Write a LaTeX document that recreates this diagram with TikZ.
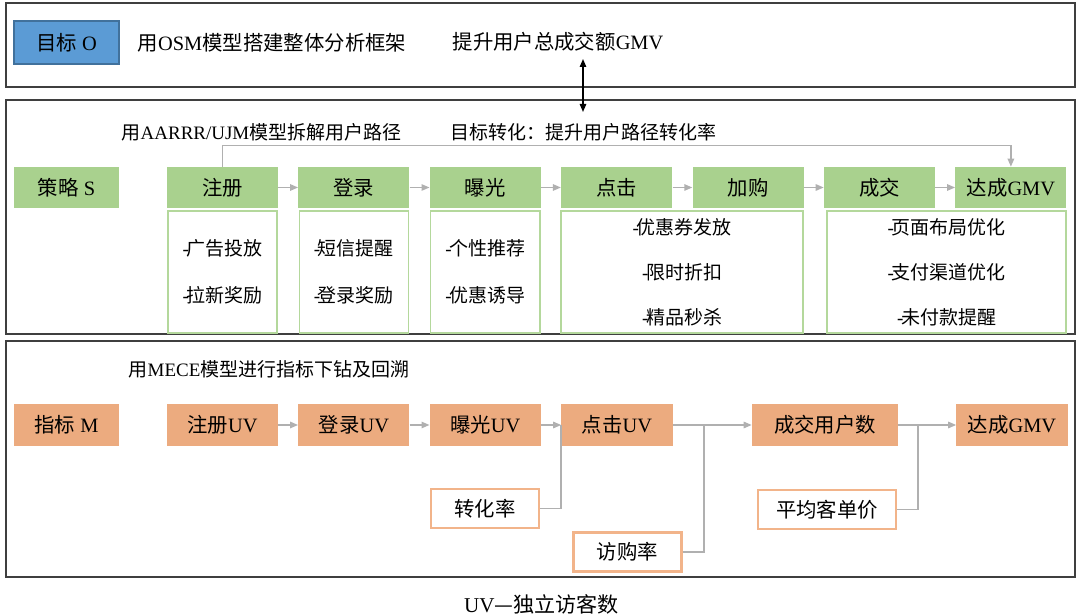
\documentclass[tikz,border=0pt]{standalone}
\usepackage{fontspec}
\setmainfont{Liberation Serif}
\newfontfamily\cjk{Noto Sans CJK SC}
\usetikzlibrary{arrows.meta}
\newcommand\zh[1]{{\cjk #1}}
\newcommand\bul{-\kern-0.12em}
\definecolor{frm}{HTML}{3F3F3F}
\definecolor{grn}{HTML}{A9D18E}
\definecolor{grnl}{HTML}{B4D89C}
\definecolor{org}{HTML}{ECAB7F}
\definecolor{orgl}{HTML}{F2B48A}
\definecolor{blu}{HTML}{5B9BD5}
\definecolor{blud}{HTML}{41719C}
\definecolor{gry}{HTML}{B0B0B0}
\begin{document}
\begin{tikzpicture}[x=0.025cm,y=-0.025cm,
  font=\fontsize{13.5}{16}\selectfont,
  frame/.style={draw=frm, line width=0.8pt},
  txt/.style={inner sep=0pt, font=\fontsize{13.5}{16}\selectfont},
  bigtxt/.style={inner sep=0pt, font=\fontsize{14.5}{17}\selectfont},
  bluebox/.style={fill=blu, draw=blud, line width=1pt, minimum width=2.625cm, minimum height=1.075cm, inner sep=0pt, font=\fontsize{14.5}{17}\selectfont},
  gbox/.style={fill=grn, minimum width=2.775cm, minimum height=1.025cm, inner sep=0pt, font=\fontsize{14.5}{17}\selectfont},
  obox/.style={fill=org, minimum width=2.775cm, minimum height=1.05cm, inner sep=0pt, font=\fontsize{14.5}{17}\selectfont},
  wbox/.style={fill=white, draw=orgl, line width=1.8pt, minimum width=2.7cm, minimum height=0.98cm, inner sep=0pt, font=\fontsize{14.5}{17}\selectfont},
  sbox2/.style={draw=grnl, line width=1pt, minimum width=2.725cm, minimum height=3.05cm, inner sep=0pt, align=center, font=\fontsize{13.5}{33.4}\selectfont},
  sbox3/.style={draw=grnl, line width=1pt, minimum height=3.05cm, inner sep=0pt, align=center, font=\fontsize{13.5}{32}\selectfont},
  conn/.style={draw=gry, line width=1.1pt},
  arr/.style={conn, -{Triangle[length=2mm,width=1.6mm]}},
  barr/.style={draw=black, line width=1pt, {Triangle[length=2mm,width=1.6mm]}-{Triangle[length=2mm,width=1.6mm]}}
]
\useasboundingbox (0,0) rectangle (1079,615);
\fill[white] (0,0) rectangle (1079,615);

% frames
\draw[frame] (6,3) rectangle (1075,87);
\draw[frame] (6,100) rectangle (1075,334);
\draw[frame] (6,341) rectangle (1075,577);

% ---- Objective
\node[bluebox] (obj) at (66.5,42.5) {\zh{目标} O};
\node[bigtxt] (osm) at (272,43) {\zh{用}OSM\zh{模型搭建整体分析框架}};
\node[bigtxt] (gmvt) at (558,42) {\zh{提升用户总成交额}GMV};

% ---- Strategy
\node[txt] (aarrr) at (261.5,132) {\zh{用}AARRR/UJM\zh{模型拆解用户路径}};
\node[txt] (conv) at (583.5,132) {\zh{目标转化：提升用户路径转化率}};
\coordinate (atop) at (583,59);
\coordinate (abot) at (583,112);
\draw[barr] (atop) -- (abot);

\node[gbox, minimum width=2.6cm] (s) at (66.5,187.5) {\zh{策略} S};
\node[gbox] (zc) at (222.5,187.5) {\zh{注册}};
\node[gbox] (dl) at (353.9,187.5) {\zh{登录}};
\node[gbox] (bg) at (485.3,187.5) {\zh{曝光}};
\node[gbox] (dj) at (616.7,187.5) {\zh{点击}};
\node[gbox] (jg) at (748.1,187.5) {\zh{加购}};
\node[gbox] (cj) at (879.5,187.5) {\zh{成交}};
\node[gbox] (dg) at (1010.9,187.5) {\zh{达成}GMV};

\draw[arr] (zc) -- (dl);
\draw[arr] (dl) -- (bg);
\draw[arr] (bg) -- (dj);
\draw[arr] (dj) -- (jg);
\draw[arr] (jg) -- (cj);
\draw[arr] (cj) -- (dg);
\draw[arr] (zc.north) -- ++(0,-21) -| (dg.north);

\node[sbox2] (s1) at (222.5,272) {\bul\zh{广告投放}\\\bul\zh{拉新奖励}};
\node[sbox2] (s2) at (353.9,272) {\bul\zh{短信提醒}\\\bul\zh{登录奖励}};
\node[sbox2] (s3) at (485.3,272) {\bul\zh{个性推荐}\\\bul\zh{优惠诱导}};
\node[sbox3, minimum width=6.05cm] (s4) at (682,272) {\bul\zh{优惠券发放}\\\bul\zh{限时折扣}\\\bul\zh{精品秒杀}};
\node[sbox3, minimum width=5.975cm] (s5) at (946.5,272) {\bul\zh{页面布局优化}\\\bul\zh{支付渠道优化}\\\bul\zh{未付款提醒}};

% ---- Metrics
\node[txt] (mece) at (269,369) {\zh{用}MECE\zh{模型进行指标下钻及回溯}};
\node[obox, minimum width=2.6cm] (m) at (66.5,425) {\zh{指标} M};
\node[obox] (zuv) at (222.5,425) {\zh{注册}UV};
\node[obox] (luv) at (353.9,425) {\zh{登录}UV};
\node[obox] (buv) at (485.3,425) {\zh{曝光}UV};
\node[obox] (duv) at (617,425) {\zh{点击}UV};
\node[obox, minimum width=3.65cm] (cuv) at (825,425) {\zh{成交用户数}};
\node[obox] (guv) at (1012,425) {\zh{达成}GMV};

\node[wbox] (zhl) at (485,508.5) {\zh{转化率}};
\node[wbox] (fgl) at (627.5,552) {\zh{访购率}};
\node[wbox, minimum width=3.45cm] (kdj) at (827,509.5) {\zh{平均客单价}};

\draw[arr] (zuv) -- (luv);
\draw[arr] (luv) -- (buv);
\draw[arr] (buv) -- (duv);
\draw[arr] (duv) -- (cuv);
\draw[arr] (cuv) -- (guv);
\coordinate (j1) at (704,425);
\coordinate (j2) at (918,425);
\draw[conn] (zhl.east) -| (duv.west);
\draw[conn] (fgl.east) -| (j1);
\draw[conn] (kdj.east) -| (j2);

\node[inner sep=0pt, font=\fontsize{15}{18}\selectfont] (cap) at (541.5,604) {UV\zh{—独立访客数}};
\end{tikzpicture}
\end{document}
